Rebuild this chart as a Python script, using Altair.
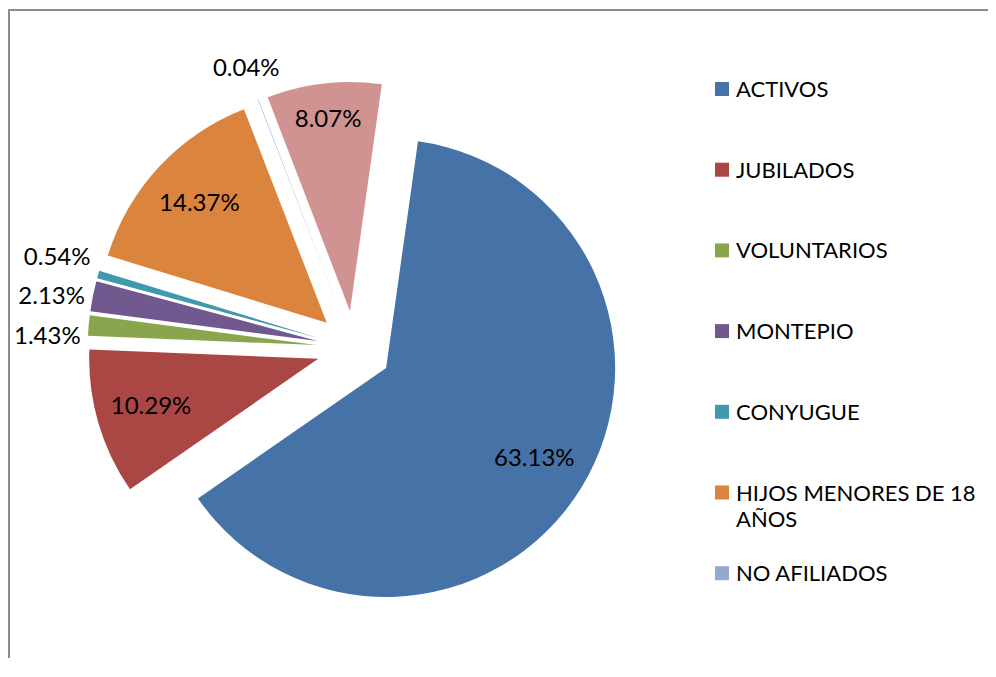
import altair as alt
import pandas as pd

# ---- data ----
categories = ["ACTIVOS", "JUBILADOS", "VOLUNTARIOS", "MONTEPIO", "CONYUGUE",
              "HIJOS MENORES DE 18 AÑOS", "NO AFILIADOS", "OTROS"]
percent = [63.13, 10.29, 1.43, 2.13, 0.54, 14.37, 0.04, 8.07]
colors = ["#4572A7", "#AA4643", "#89A54E", "#71588F", "#4198AF",
          "#DB843D", "#93A9CF", "#D19392"]
# legend as shown in the reference (last entry was cut off there)
legend_labels = ["ACTIVOS", "JUBILADOS", "VOLUNTARIOS", "MONTEPIO", "CONYUGUE",
                 "HIJOS MENORES DE 18\nAÑOS", "NO AFILIADOS"]

# ---- layout / style ----
W, H = 980, 650
CX, CY = 346.2, 340.3      # pie centre
R = 229                    # radius
EXPLODE = 37.5             # explosion distance
START = 8.0                # first slice angle (degrees)
FONT = "Lato"
FS = 24                    # data-label font size
LFS = 22                   # legend font size
GAP = 39.5                 # min vertical gap between stacked outside labels

df = pd.DataFrame({"cat": categories, "pct": percent, "order": list(range(len(categories)))})
leg = pd.DataFrame({"label": legend_labels, "cat": categories[:len(legend_labels)],
                    "idx": list(range(len(legend_labels)))})

color = alt.Color("cat:N", scale=alt.Scale(domain=categories, range=colors), legend=None)

base = (
    alt.Chart(df)
    .transform_joinaggregate(total="sum(pct)")
    .transform_window(cum="sum(pct)", sort=[alt.SortField("order")], frame=[None, 0])
    .transform_calculate(t1=f"{START}*PI/180 + 2*PI*datum.cum/datum.total")
    .transform_calculate(t0="datum.t1 - 2*PI*datum.pct/datum.total")
    .transform_calculate(mid="(datum.t0 + datum.t1)/2")
    .transform_calculate(
        ax=f"{CX} + {EXPLODE}*sin(datum.mid)",
        ay=f"{CY} - {EXPLODE}*cos(datum.mid)",
        outside="datum.pct < 5",
        lbl="format(datum.pct, '.2f') + '%'",
    )
    .transform_calculate(
        grp="(datum.outside && abs(cos(datum.mid)) < 0.5) ? 'side' : datum.cat",
    )
    .transform_calculate(
        lr=(f"datum.grp == 'side' ? {R + 8} : (datum.pct > 9 ? {0.76 * R} : "
            f"(datum.pct > 5 ? {0.84 * R} : {R + 33}))"),
    )
    .transform_calculate(
        lx="datum.ax + datum.lr*sin(datum.mid)",
        ly0="datum.ay - datum.lr*cos(datum.mid)",
    )
    # spread stacked outside labels on the left so they do not overlap
    .transform_window(rk="row_number()", groupby=["grp"],
                      sort=[alt.SortField("mid", order="descending")])
    .transform_joinaggregate(n="count()", m="mean(ly0)", groupby=["grp"])
    .transform_calculate(ly=f"datum.m + (datum.rk - 1 - (datum.n - 1)/2)*{GAP}")
)

arcs = base.mark_arc(radius=R, innerRadius=0).encode(
    x=alt.X("ax:Q", scale=None, axis=None),
    y=alt.Y("ay:Q", scale=None, axis=None),
    theta=alt.Theta("t0:Q", scale=None, stack=None),
    theta2="t1:Q",
    color=color,
)

label_enc = dict(
    x=alt.X("lx:Q", scale=None, axis=None),
    y=alt.Y("ly:Q", scale=None, axis=None),
    text="lbl:N",
)
labels = base.transform_filter("datum.grp != 'side'").mark_text(
    font=FONT, fontSize=FS, color="#000000", align="center", baseline="middle"
).encode(**label_enc)
side_labels = base.transform_filter("datum.grp == 'side'").mark_text(
    font=FONT, fontSize=FS, color="#000000", align="right", baseline="middle"
).encode(**label_enc)

legbase = alt.Chart(leg).transform_calculate(ly="81 + datum.idx*80.7")

leg_sym = legbase.mark_square(size=196, opacity=1).encode(
    x=alt.value(714),
    y=alt.Y("ly:Q", scale=None, axis=None),
    color=color,
)
leg_txt = legbase.mark_text(font=FONT, fontSize=LFS, color="#000000", align="left",
                            baseline="alphabetic", dy=8, lineBreak="\n",
                            lineHeight=26).encode(
    x=alt.value(728),
    y=alt.Y("ly:Q", scale=None, axis=None),
    text="label:N",
)

one = pd.DataFrame({"a": [0]})
frame_top = alt.Chart(one).mark_rule(color="#8c8c8c", strokeWidth=2).encode(
    x=alt.value(0), x2=alt.value(W), y=alt.value(2))
frame_left = alt.Chart(one).mark_rule(color="#8c8c8c", strokeWidth=2).encode(
    x=alt.value(1), y=alt.value(2), y2=alt.value(H))

chart = (
    alt.layer(frame_top, frame_left, arcs, labels, side_labels, leg_sym, leg_txt)
    .properties(width=W, height=H, padding=0, autosize="none", background="white")
    .configure_view(stroke=None)
)

chart.save("out.html", embed_options={"renderer": "svg", "actions": False})
